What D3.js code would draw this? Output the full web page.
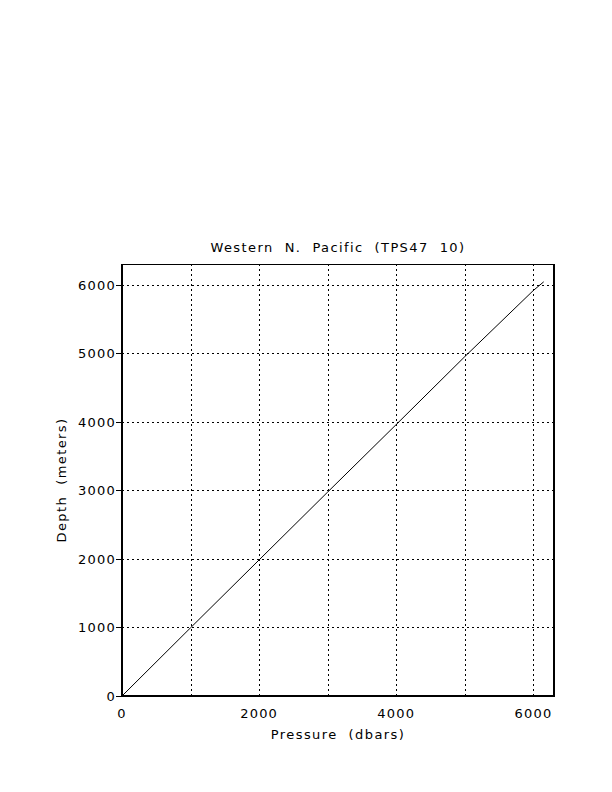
<!DOCTYPE html>
<meta charset="utf-8" />
<style>
  body { margin: 0; background: #fff; }
  text { font-family: "DejaVu Sans", sans-serif; fill: #000; white-space: pre; }
  .grid line { stroke: #000; stroke-width: 1; stroke-dasharray: 2,3; }
  .lbl { font-size: 13px; letter-spacing: 1.4px; }
  .tick { font-size: 13px; letter-spacing: 1.2px; }
</style>
<body>
  <div id="chart"></div>
  <script src="https://cdn.jsdelivr.net/npm/d3@7"></script>
  <script>
    const pressure = [0, 1000, 2000, 3000, 4000, 5000, 6000, 6150];
    const depth = [0, 995, 1985, 2975, 3960, 4950, 5915, 6040];
    const gridTicks = [1000, 2000, 3000, 4000, 5000, 6000];
    const xLabels = [0, 2000, 4000, 6000];
    const yLabels = [0, 1000, 2000, 3000, 4000, 5000, 6000];

    const width = 612, height = 792;
    const pLeft = 122, pRight = 554, pTop = 264, pBottom = 696;

    const svg = d3.select("#chart").append("svg")
      .attr("width", width).attr("height", height);

    const x = d3.scaleLinear().domain([0, 6300]).range([pLeft, pRight]);
    const y = d3.scaleLinear().domain([0, 6300]).range([pBottom, pTop]);

    // grid
    const grid = svg.append("g").attr("class", "grid");
    grid.selectAll(".vx").data(gridTicks).enter().append("line")
      .attr("x1", d => Math.round(x(d)) + 0.5).attr("x2", d => Math.round(x(d)) + 0.5)
      .attr("y1", pTop).attr("y2", pBottom);
    grid.selectAll(".hy").data(gridTicks).enter().append("line")
      .attr("y1", d => Math.round(y(d)) + 0.5).attr("y2", d => Math.round(y(d)) + 0.5)
      .attr("x1", pLeft).attr("x2", pRight);

    // line
    const line = d3.line().x((d, i) => x(pressure[i])).y((d, i) => y(depth[i]));
    svg.append("path").datum(pressure).attr("d", line)
      .attr("fill", "none").attr("stroke", "#000").attr("stroke-width", 1);

    // frame
    svg.append("line").attr("x1", pLeft).attr("x2", pRight).attr("y1", pTop + 0.5).attr("y2", pTop + 0.5)
      .attr("stroke", "#000").attr("stroke-width", 1);
    svg.append("line").attr("x1", pLeft).attr("x2", pRight + 1).attr("y1", pBottom).attr("y2", pBottom)
      .attr("stroke", "#000").attr("stroke-width", 2);
    svg.append("line").attr("x1", pLeft).attr("x2", pLeft).attr("y1", pTop).attr("y2", pBottom + 1)
      .attr("stroke", "#000").attr("stroke-width", 2);
    svg.append("line").attr("x1", pRight).attr("x2", pRight).attr("y1", pTop).attr("y2", pBottom + 1)
      .attr("stroke", "#000").attr("stroke-width", 2);

    // y ticks
    svg.selectAll(".yt").data(yLabels).enter().append("line")
      .attr("x1", pLeft - 6).attr("x2", pLeft)
      .attr("y1", d => Math.round(y(d)) + 0.5).attr("y2", d => Math.round(y(d)) + 0.5)
      .attr("stroke", "#000");
    svg.selectAll(".yl").data(yLabels).enter().append("text")
      .attr("class", "tick")
      .attr("x", pLeft - 6).attr("y", d => y(d) + 5)
      .attr("text-anchor", "end")
      .text(d => d);

    svg.selectAll(".xl").data(xLabels).enter().append("text")
      .attr("class", "tick")
      .attr("x", d => x(d)).attr("y", pBottom + 22)
      .attr("text-anchor", "middle")
      .text(d => d);

    svg.append("text").attr("class", "lbl")
      .attr("x", (pLeft + pRight) / 2).attr("y", 252)
      .attr("text-anchor", "middle")
      .text("Western  N.  Pacific  (TPS47  10)");

    svg.append("text").attr("class", "lbl")
      .attr("x", (pLeft + pRight) / 2).attr("y", 739)
      .attr("text-anchor", "middle")
      .text("Pressure  (dbars)");

    svg.append("text").attr("class", "lbl")
      .attr("transform", `translate(66, ${(pTop + pBottom) / 2}) rotate(-90)`)
      .attr("text-anchor", "middle")
      .text("Depth  (meters)");
  </script>
</body>
